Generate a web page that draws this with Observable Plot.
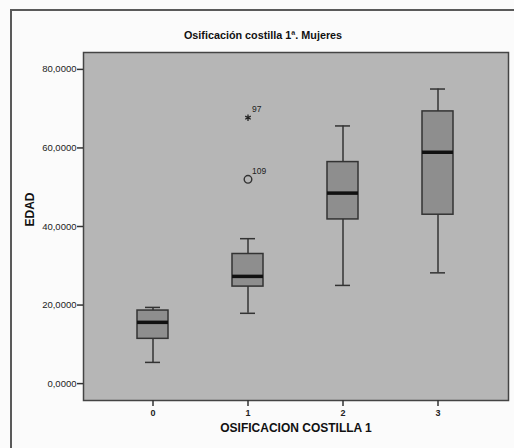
<!DOCTYPE html>
<html>
<head>
<meta charset="utf-8">
<script src="https://cdn.jsdelivr.net/npm/d3@7"></script>
<script src="https://cdn.jsdelivr.net/npm/@observablehq/plot@0.6"></script>
<style>
  html, body { margin: 0; padding: 0; background: #fbfbfb; overflow: hidden; }
  #wrap { position: relative; width: 514px; height: 448px; }
  #border { position: absolute; left: 10px; top: 9px; width: 600px; height: 600px;
            border: 2px solid #5a5a5a; pointer-events: none; z-index: 2; }
  svg { background: transparent !important; }
</style>
</head>
<body>
<div id="wrap"><div id="border"></div></div>
<script>
// Summary values (EDAD by OSIFICACION COSTILLA 1)
const categories = [0, 1, 2, 3];
const whiskerLow  = [5.4, 17.9, 25.0, 28.2];
const q1          = [11.4, 24.7, 41.8, 43.0];
const medians     = [15.6, 27.3, 48.5, 58.9];
const q3          = [18.6, 33.0, 56.4, 69.3];
const whiskerHigh = [19.4, 36.9, 65.6, 75.0];

const outlierCats   = [1, 1];
const outlierValues = [52.0, 67.7];
const outlierLabels = ["109", "97"];
const outlierKinds  = ["circle", "star"];

const yTicks = [0, 20, 40, 60, 80];

const boxes = categories.map((c, i) => ({
  cat: c, lo: whiskerLow[i], q1: q1[i], med: medians[i], q3: q3[i], hi: whiskerHigh[i]
}));
const outliers = outlierCats.map((c, i) => ({
  cat: c, v: outlierValues[i], label: outlierLabels[i], kind: outlierKinds[i]
}));

const font = "Liberation Sans, Arial, sans-serif";
const dark = "#333";

const chart = Plot.plot({
  width: 514,
  height: 448,
  marginTop: 52,
  marginLeft: 83,
  marginRight: 6,
  marginBottom: 48,
  style: { fontFamily: font, fontSize: "9.5px", color: "#222", background: "transparent" },
  x: { type: "band", domain: categories, paddingInner: 0.67, paddingOuter: 0.56, label: null },
  y: { domain: [-4.3, 84.3], label: null },
  marks: [
    Plot.frame({ fill: "#b6b6b6", stroke: "#444", strokeWidth: 1.5 }),
    Plot.axisY({ ticks: yTicks, tickSize: 6, tickPadding: 1, label: null, fontSize: 9.5,
                 tickFormat: d => d.toFixed(4).replace(".", ","), stroke: dark, strokeWidth: 1.5 }),
    Plot.axisX({ tickSize: 6, tickPadding: 3, label: null, stroke: dark, strokeWidth: 1.5,
                 fontSize: 9, fontWeight: "bold" }),
    Plot.ruleX(boxes, { x: "cat", y1: "lo", y2: "hi", stroke: dark, strokeWidth: 1.5 }),
    Plot.barY(boxes, { x: "cat", y1: "q1", y2: "q3", fill: "#8e8e8e", stroke: dark, strokeWidth: 1.5 }),
    Plot.tickY(boxes, { x: "cat", y: "med", stroke: "#111", strokeWidth: 3.5 }),
    Plot.tickY(boxes, { x: "cat", y: "lo", stroke: dark, strokeWidth: 1.5, insetLeft: 8, insetRight: 8 }),
    Plot.tickY(boxes, { x: "cat", y: "hi", stroke: dark, strokeWidth: 1.5, insetLeft: 8, insetRight: 8 }),
    Plot.dot(outliers.filter(d => d.kind === "circle"), { x: "cat", y: "v", r: 3.8, stroke: dark, strokeWidth: 1.4, fill: "none" }),
    Plot.dot(outliers.filter(d => d.kind === "star"), { x: "cat", y: "v", symbol: "asterisk", r: 3, stroke: "#222", strokeWidth: 1.3 }),
    Plot.text(outliers, { x: "cat", y: "v", text: "label", dx: 4, dy: -8, textAnchor: "start", fontSize: 8.5, fill: "#222" }),
    Plot.text(["Osificación costilla 1ª. Mujeres"], { frameAnchor: "top", dx: -33, dy: -21,
               fontWeight: "bold", fontSize: 10.8, fill: "#111" }),
    Plot.text(["EDAD"], { frameAnchor: "left", dx: -53, rotate: -90,
               fontWeight: "bold", fontSize: 12, fill: "#111" }),
    Plot.text(["OSIFICACION COSTILLA 1"], { frameAnchor: "bottom", dy: 31,
               fontWeight: "bold", fontSize: 12, fill: "#111" })
  ]
});
document.getElementById("wrap").appendChild(chart);
</script>
</body>
</html>
